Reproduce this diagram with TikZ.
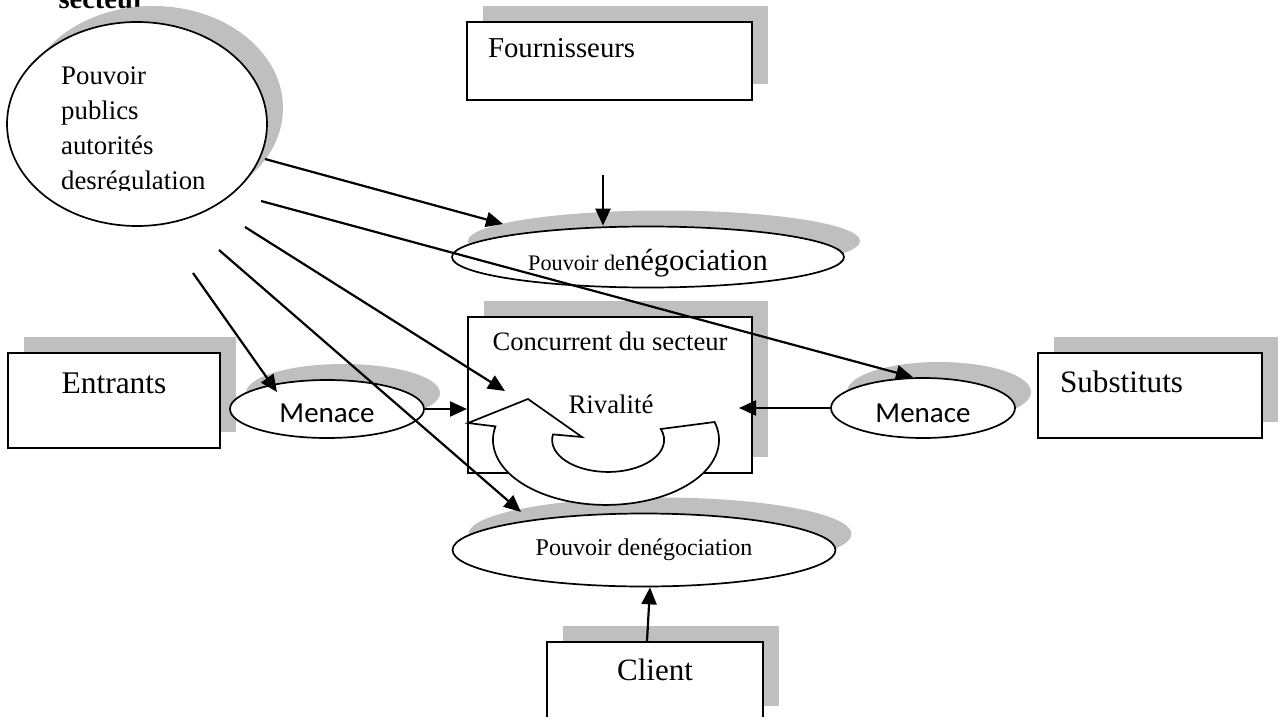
\documentclass[tikz,border=0pt]{standalone}
\usepackage{fontspec}
\setmainfont{Liberation Serif}
\newfontfamily\calibri{Carlito}
\usetikzlibrary{arrows.meta,shadows,shapes.geometric}
\definecolor{ombregris}{RGB}{191,191,191}
\tikzset{
  ombre/.style={general shadow={fill=ombregris,shadow xshift=16pt,shadow yshift=16pt}},
  boite/.style={draw,fill=white,line width=2pt,inner sep=0pt,ombre},
  bulle/.style={ellipse,draw,fill=white,line width=1.7pt,inner sep=0pt,ombre},
  fleche/.style={-{Triangle[length=17pt,width=15pt]},line width=2.2pt},
  menace/.style={bulle,font=\calibri\fontsize{29}{34}\selectfont,text depth=0pt}
}

\begin{document}
\begin{tikzpicture}[x=1pt,y=-1pt]
            \useasboundingbox (0,0) rectangle (1282,717);
            \clip (0,0) rectangle (1282,717);
            \node[anchor=base west,font=\fontsize{28.5}{34}\selectfont\bfseries] (sect) at (55,9) {secteur};
            \node[bulle,minimum width=260pt,minimum height=204pt] (pouv) at (137,124) {};
            \begin{scope}
            \clip (0,0) rectangle (300,190.5);
            \node[anchor=north west,align=left,inner sep=0pt,font=\fontsize{26.8}{35}\selectfont] (pouvT) at (61,67) {Pouvoir\\publics\\autorités\\desrégulation};
            \end{scope}
            \node[boite,text width=243pt,inner xsep=21pt,align=left,text height=36pt,text depth=42pt,font=\fontsize{28.8}{34}\selectfont] (four) at (609.5,61) {Fournisseurs};
            \node[bulle,minimum width=392pt,minimum height=61pt,text height=26pt,text depth=0pt,font=\fontsize{22.2}{27}\selectfont] (topE) at (648,257) {Pouvoir de{\fontsize{30.6}{36}\selectfont négociation}};
            \node[boite,minimum width=284pt,text height=33pt,text depth=123pt,font=\fontsize{26.6}{32}\selectfont] (conc) at (610,395) {Concurrent du secteur};
            \node[boite,minimum width=212pt,text height=40pt,text depth=55pt,font=\fontsize{31.5}{38}\selectfont] (entr) at (114,400.5) {Entrants};
            \node[boite,text width=180pt,inner xsep=22pt,align=left,text height=39pt,text depth=46pt,font=\fontsize{31.2}{38}\selectfont] (subs) at (1150,395.5) {Substituts};
            \node[menace,minimum width=194pt,minimum height=58pt,text height=26pt] (menL) at (327,409) {Menace};
            \node[menace,minimum width=184pt,minimum height=60pt,text height=28pt] (menR) at (923,408) {Menace};
            \node[bulle,minimum width=383pt,minimum height=73pt,text height=16pt,text depth=6pt,font=\fontsize{24}{29}\selectfont] (botE) at (644,550) {Pouvoir denégociation};
            \node[boite,minimum width=216pt,text height=38pt,text depth=42pt,font=\fontsize{31}{37}\selectfont] (client) at (655,682) {Client};
            \draw[fill=white,line width=1.7pt] (468,423) -- (528,399) -- (582,437) -- (553,434.4)
              arc[start angle=190,end angle=-20,x radius=56,y radius=32] -- (714.6,422)
              arc[start angle=-16,end angle=192,x radius=113,y radius=65] -- cycle;
            \node[anchor=base,inner sep=0pt,font=\fontsize{26.8}{32}\selectfont] (rival) at (611,413) {Rivalité};
            \coordinate (d1) at (265,159);
            \coordinate (f1) at (503,224);
            \coordinate (d2) at (261,201);
            \coordinate (d3) at (245,227);
            \coordinate (f3) at (505,391);
            \coordinate (d4) at (219,250);
            \coordinate (f4) at (521,512);
            \coordinate (d5) at (193,273);
            \coordinate (f5) at (277,392);
            \coordinate (d6) at (603,175);
            \draw[fleche] (d1) -- (f1);
            \draw[fleche] (d2) -- ([xshift=-10pt]menR.north);
            \draw[fleche] (d3) -- (f3);
            \draw[fleche] (d4) -- (f4);
            \draw[fleche] (d5) -- (f5);
            \draw[fleche] (d6) -- ([xshift=-45pt]topE.north);
            \draw[fleche] (menL) -- (menL -| conc.west);
            \draw[fleche,shorten >=-14pt] (menR) -- (menR -| conc.east);
            \draw[fleche] ([xshift=-8pt]client.north) -- ([xshift=6pt]botE.south);
\end{tikzpicture}
\end{document}
